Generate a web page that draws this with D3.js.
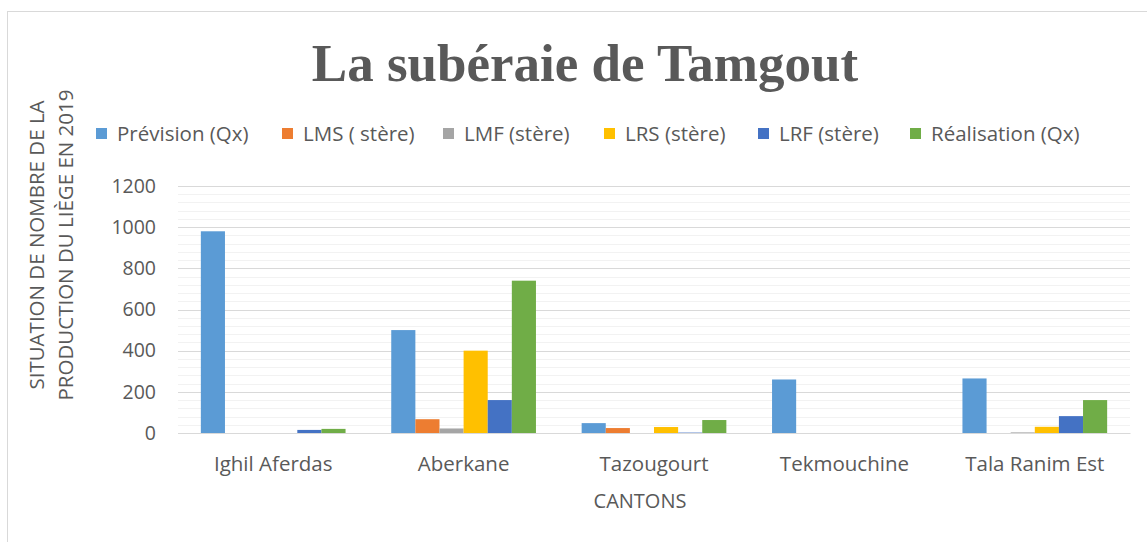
<!DOCTYPE html>
<html>
<head>
<meta charset="utf-8">
<script src="https://cdn.jsdelivr.net/npm/d3@7"></script>
<style>
	body { margin: 0; background: #fff; }
	svg { display: block; }
	text { fill: #595959; }
</style>
</head>
<body>
<svg id="chart" width="1147" height="542"></svg>
<script>
const cantons = ['Ighil Aferdas', 'Aberkane', 'Tazougourt', 'Tekmouchine', 'Tala Ranim Est'];
const series_names = ['Prévision (Qx)', 'LMS ( stère)', 'LMF (stère)', 'LRS (stère)', 'LRF (stère)', 'Réalisation (Qx)'];
const series_colors = ['#5b9bd5', '#ed7d31', '#a5a5a5', '#ffc000', '#4472c4', '#70ad47'];

const prevision = [980, 500, 48, 260, 265];
const lms = [0, 67, 24, 0, 0];
const lmf = [0, 22, 0, 0, 3];
const lrs = [0, 400, 29, 0, 30];
const lrf = [15, 160, 2, 0, 82];
const realisation = [20, 740, 63, 0, 160];

const y_ticks = [0, 200, 400, 600, 800, 1000, 1200];

const series = [prevision, lms, lmf, lrs, lrf, realisation];

const FONT = '"Open Sans", sans-serif';

const svg = d3.select('#chart');
const width = 1147;

const margin = {left: 178, right: 17, top: 186, bottom: 109};
const plot_w = width - margin.left - margin.right;
const plot_h = 542 - margin.top - margin.bottom;

// chart frame
svg.append('rect')
	.attr('x', 7.5)
	.attr('y', 11.5)
	.attr('width', 1160)
	.attr('height', 560)
	.attr('fill', 'none')
	.attr('stroke', '#d9d9d9');

// title
svg.append('text')
	.attr('x', 585)
	.attr('y', 81)
	.attr('text-anchor', 'middle')
	.attr('font-family', '"Liberation Serif", "Times New Roman", serif')
	.attr('font-weight', 'bold')
	.attr('font-size', 53)
	.text('La subéraie de Tamgout');

const x0 = d3.scaleBand().domain(cantons).range([0, plot_w]).paddingInner(0.24).paddingOuter(0.12);
const x1 = d3.scaleBand().domain(d3.range(series.length)).range([0, x0.bandwidth()]);
const y = d3.scaleLinear().domain([0, 1200]).range([plot_h, 0]);

const g = svg.append('g').attr('transform', `translate(${margin.left},${margin.top})`);

// minor gridlines
g.append('g')
	.selectAll('line')
	.data(d3.range(0, 1201, 40).filter(v => v % 200 !== 0))
	.join('line')
	.attr('x1', 0)
	.attr('x2', plot_w)
	.attr('y1', d => Math.round(y(d)) + 0.5)
	.attr('y2', d => Math.round(y(d)) + 0.5)
	.attr('stroke', '#f2f2f2');

// major gridlines
g.append('g')
	.selectAll('line')
	.data(y_ticks)
	.join('line')
	.attr('x1', 0)
	.attr('x2', plot_w)
	.attr('y1', d => Math.round(y(d)) + 0.5)
	.attr('y2', d => Math.round(y(d)) + 0.5)
	.attr('stroke', '#d9d9d9');

// y axis labels
const y_axis = g.append('g')
	.call(d3.axisLeft(y).tickValues(y_ticks).tickFormat(d3.format('d')).tickSize(0).tickPadding(22));
y_axis.select('.domain').remove();
y_axis.selectAll('text')
	.attr('font-family', FONT)
	.attr('font-size', 19.5);

// bars
g.append('g')
	.selectAll('g')
	.data(cantons)
	.join('g')
	.attr('transform', d => `translate(${x0(d)},0)`)
	.selectAll('rect')
	.data((d, i) => series.map((s, k) => ({k: k, v: s[i]})))
	.join('rect')
	.attr('x', d => x1(d.k))
	.attr('width', x1.bandwidth())
	.attr('y', d => y(d.v))
	.attr('height', d => plot_h - y(d.v))
	.attr('fill', d => series_colors[d.k]);

// x axis labels
const x_axis = g.append('g')
	.attr('transform', `translate(0,${plot_h})`)
	.call(d3.axisBottom(x0).tickSize(0).tickPadding(23));
x_axis.select('.domain').attr('stroke', '#d9d9d9');
x_axis.selectAll('text')
	.attr('font-family', FONT)
	.attr('font-size', 20.5);

// axis titles
svg.append('text')
	.attr('x', 640)
	.attr('y', 508)
	.attr('text-anchor', 'middle')
	.attr('font-family', FONT)
	.attr('font-size', 20)
	.text('CANTONS');

const y_title = svg.append('text')
	.attr('transform', 'translate(44,245) rotate(-90)')
	.attr('text-anchor', 'middle')
	.attr('font-family', FONT)
	.attr('font-size', 20.5);
y_title.append('tspan').attr('x', 0).attr('dy', 0).text('SITUATION DE NOMBRE DE LA');
y_title.append('tspan').attr('x', 0).attr('dy', 29).text('PRODUCTION DU LIÈGE EN 2019');

// legend
const legend_x = [96, 282, 443, 604, 758, 910];
const legend = svg.append('g')
	.selectAll('g')
	.data(series_names)
	.join('g')
	.attr('transform', (d, i) => `translate(${legend_x[i]},134)`);

legend.append('rect')
	.attr('x', 0)
	.attr('y', -6)
	.attr('width', 11)
	.attr('height', 11)
	.attr('fill', (d, i) => series_colors[i]);

legend.append('text')
	.attr('x', 21)
	.attr('y', 0)
	.attr('dy', '0.35em')
	.attr('font-family', FONT)
	.attr('font-size', 20.5)
	.text(d => d);
</script>
</body>
</html>
